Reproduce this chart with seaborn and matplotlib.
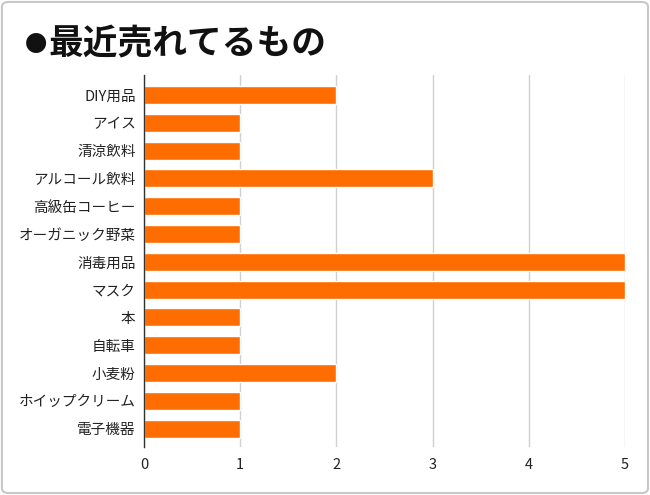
import matplotlib
matplotlib.use("Agg")
import matplotlib.pyplot as plt
import seaborn as sns
import pandas as pd
from matplotlib.patches import FancyBboxPatch

## data
items = ["DIY用品", "アイス", "清涼飲料", "アルコール飲料", "高級缶コーヒー",
         "オーガニック野菜", "消毒用品", "マスク", "本", "自転車", "小麦粉",
         "ホイップクリーム", "電子機器"]
counts = [2, 1, 1, 3, 1, 1, 5, 5, 1, 1, 2, 1, 1]
x_ticks = [0, 1, 2, 3, 4, 5]

df = pd.DataFrame({"item": items, "count": counts})

sns.set_style("white")
plt.rcParams['font.family'] = ['Noto Sans CJK JP', 'DejaVu Sans']

fig = plt.figure(figsize=(6.5, 4.95), dpi=100)
ax = fig.add_axes([0.2215, 0.097, 0.74, 0.7515])

sns.barplot(data=df, x="count", y="item", orient="h", color="#FF6D01",
            saturation=1, width=0.65, ax=ax)

ax.set_xlim(0, 5)
ax.set_ylim(len(items) - 1 + 0.66, -0.72)
ax.set_xticks(x_ticks)
ax.set_xlabel("")
ax.set_ylabel("")
ax.xaxis.grid(True, color="#d0d0d0", linewidth=1)
ax.set_axisbelow(True)
for s in ["top", "right", "bottom"]:
    ax.spines[s].set_visible(False)
ax.spines["left"].set_color("#333333")
ax.spines["left"].set_linewidth(1)
ax.tick_params(axis="both", length=0, labelsize=10.5, labelcolor="#222222")
ax.tick_params(axis="x", pad=8)
ax.tick_params(axis="y", pad=6)

# title: small bullet, then the text
fig.text(0.038, 0.911, "●", fontsize=16, color="#111111", va="center", ha="left")
fig.text(0.075, 0.911, "最近売れてるもの", fontsize=25, fontweight="bold",
         color="#111111", va="center", ha="left")

# light frame round the picture
frame = FancyBboxPatch((0.003, 0.004), 0.994, 0.992, boxstyle="round,pad=0,rounding_size=0.01",
                       transform=fig.transFigure, fill=False, edgecolor="#c8c8c8",
                       linewidth=1.5)
fig.patches.append(frame)

fig.savefig("out.png", dpi=100)
